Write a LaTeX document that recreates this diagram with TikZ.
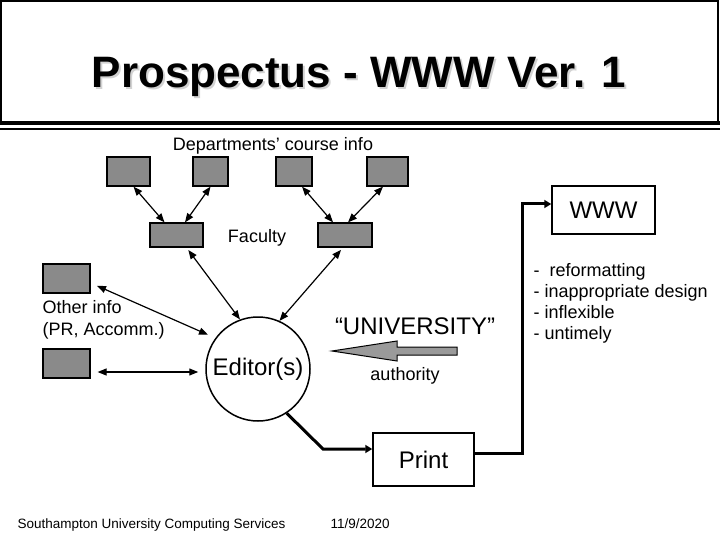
\documentclass[tikz,border=0pt]{standalone}
\usepackage{fontspec}
\setmainfont{Liberation Sans}
\usetikzlibrary{arrows.meta}
\definecolor{boxgray}{HTML}{8A8A8A}
\definecolor{arrowgray}{HTML}{9A9A9A}
\tikzset{
  graybox/.style={draw, line width=1.2pt, fill=boxgray, inner sep=0pt},
  link/.style={line width=1.2pt, {Triangle[length=9pt,width=7pt]}-{Triangle[length=9pt,width=7pt]}},
  flow/.style={line width=3pt, -{Triangle[length=7pt,width=8pt]}},
  txt/.style={anchor=base, font=\fontsize{18}{21}\selectfont},
  big/.style={font=\fontsize{24}{28}\selectfont},
  frame/.style={draw, line width=1.5pt, inner sep=0pt}
}

\begin{document}
\begin{tikzpicture}[x=1pt,y=-1pt]
        \useasboundingbox (0,0) rectangle (720,540);
        \draw[line width=1.5pt] (1,121) -- (1,1) -- (718,1) -- (718,121);
        \draw[line width=4pt] (0,123) -- (720,123);
        \draw[line width=2pt] (0,129) -- (720,129);
        \node[anchor=base, text=gray!35, font=\bfseries\fontsize{44}{50}\selectfont] (shadow) at (361,90) {Prospectus - WWW Ver. 1};
        \node[anchor=base, font=\bfseries\fontsize{44}{50}\selectfont] (title) at (359,88) {Prospectus - WWW Ver. 1};
        \node[txt] (dept) at (273,151) {Departments’ course info};
        \node[graybox, minimum width=43pt, minimum height=29pt] (d1) at (128.5,171.5) {};
        \node[graybox, minimum width=35pt, minimum height=29pt] (d2) at (210.5,171.5) {};
        \node[graybox, minimum width=36pt, minimum height=29pt] (d3) at (294,171.5) {};
        \node[graybox, minimum width=41pt, minimum height=29pt] (d4) at (387.5,171.5) {};
        \node[graybox, minimum width=53pt, minimum height=24pt] (f1) at (176.5,235) {};
        \node[graybox, minimum width=54pt, minimum height=24pt] (f2) at (345,235) {};
        \node[txt] (faculty) at (257,242) {Faculty};
        \node[graybox, minimum width=47pt, minimum height=29pt] (o1) at (66.5,278.5) {};
        \node[graybox, minimum width=47pt, minimum height=29pt] (o2) at (66.5,363.5) {};
        \node[txt, anchor=base west] (other) at (39,313) {Other info};
        \node[txt, anchor=base west] (pr-acc) at (39,335) {(PR, Accomm.)};
        \node[draw, circle, line width=1.5pt, minimum size=104pt, inner sep=0pt, big] (ed) at (258,369) {Editor(s)};
        \node[frame, minimum width=101pt, minimum height=53pt, big] (pr) at (423.5,459.5) {Print};
        \node[frame, minimum width=103pt, minimum height=48pt, big] (www) at (603.5,210) {WWW};
        \node[anchor=base, big] (univ) at (415,334) {“UNIVERSITY”};
        \node[txt] (auth) at (405,380) {authority};
        \node[txt, anchor=base west] (fault1) at (530,276) {- \ reformatting};
        \node[txt, anchor=base west] (fault2) at (530,297) {- inappropriate design};
        \node[txt, anchor=base west] (fault3) at (530,318) {- inflexible};
        \node[txt, anchor=base west] (fault4) at (530,339) {- untimely};
        \node[anchor=base west, font=\fontsize{13.5}{16}\selectfont] (org) at (14,528) {Southampton University Computing Services};
        \node[anchor=base west, font=\fontsize{13.5}{16}\selectfont] (date) at (327,528) {11/9/2020};
        \draw[link] ([xshift=5pt]d1.south) -- ([xshift=-12pt]f1.north);
        \draw[link] (d2.south) -- ([xshift=8.5pt]f1.north);
        \draw[link] ([xshift=8pt]d3.south) -- ([xshift=-12pt]f2.north);
        \draw[link] ([xshift=-4.5pt]d4.south) -- ([xshift=3pt]f2.north);
        \draw[link, shorten <=3pt] ([xshift=10pt]f1.south) -- (ed.110);
        \draw[link, shorten <=3pt] ([xshift=-2pt]f2.south) -- (ed.66);
        \draw[link, shorten <=7pt, shorten >=8pt] ([yshift=-4.5pt]o1.east) -- (ed.144);
        \draw[link, shorten <=7pt, shorten >=7pt] ([yshift=-8.5pt]o2.east) -- ([yshift=-8.5pt]o2.east -| ed.west);
        \draw[line width=1pt, fill=arrowgray] (457,347) -- (397,347) -- (397,341) -- (332,351) -- (397,361) -- (397,355) -- (457,355) -- cycle;
        \coordinate (kink) at (323,449);
        \draw[flow] (ed.-57) -- (kink) -- (kink -| pr.west);
        \coordinate (rise) at (522,453);
        \draw[flow] ([yshift=6.5pt]pr.east) -- (rise) |- ([yshift=6pt]www.west);
    \end{tikzpicture}
\end{document}
